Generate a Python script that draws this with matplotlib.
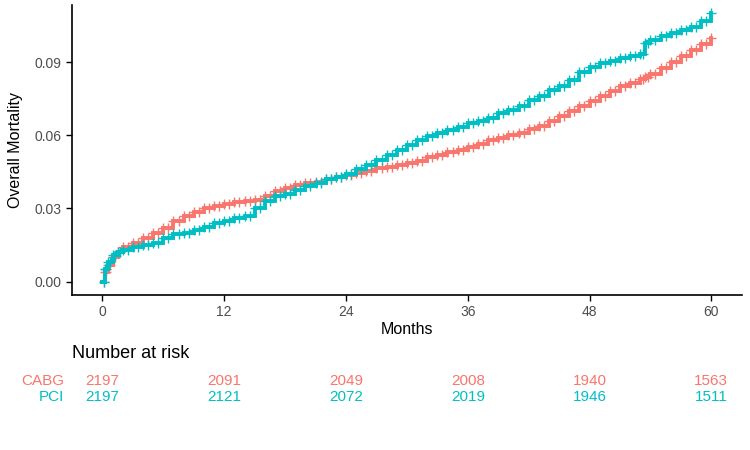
import matplotlib
matplotlib.use("Agg")
import matplotlib.pyplot as plt
from matplotlib.transforms import blended_transform_factory

plt.rcParams['font.family'] = ['Liberation Sans', 'DejaVu Sans']

months = [0, 0.25, 0.5, 1, 1.5, 2, 3, 4, 5, 6, 7, 8, 9, 10, 11, 12, 13, 14, 15,
          16, 17, 18, 19, 20, 21, 22, 23, 24, 25, 26, 27, 28, 29, 30, 31, 32,
          33, 34, 35, 36, 37, 38, 39, 40, 41, 42, 43, 44, 45, 46, 47, 48, 49,
          50, 51, 52, 53, 53.5, 54, 55, 56, 57, 58, 59, 60]

cabg = [0.000, 0.004, 0.007, 0.010, 0.012, 0.014, 0.016, 0.0177, 0.020, 0.022,
        0.025, 0.027, 0.0285, 0.030, 0.031, 0.032, 0.0328, 0.033, 0.0335,
        0.035, 0.037, 0.0385, 0.0395, 0.0405, 0.041, 0.042, 0.043, 0.0437,
        0.0445, 0.0455, 0.0465, 0.047, 0.048, 0.0487, 0.0495, 0.051, 0.052,
        0.053, 0.054, 0.055, 0.0565, 0.058, 0.059, 0.060, 0.061, 0.0625,
        0.064, 0.066, 0.068, 0.070, 0.072, 0.074, 0.076, 0.078, 0.080, 0.0815,
        0.083, 0.084, 0.085, 0.0875, 0.090, 0.0925, 0.095, 0.0975, 0.100]

pci = [0.000, 0.005, 0.008, 0.011, 0.012, 0.0128, 0.014, 0.015, 0.016, 0.018,
       0.0195, 0.020, 0.021, 0.0225, 0.024, 0.025, 0.026, 0.027, 0.030, 0.033,
       0.035, 0.036, 0.0375, 0.039, 0.0405, 0.042, 0.043, 0.044, 0.046, 0.048,
       0.050, 0.052, 0.054, 0.056, 0.058, 0.0595, 0.061, 0.062, 0.0635, 0.065,
       0.066, 0.0672, 0.069, 0.0703, 0.072, 0.0744, 0.076, 0.0785, 0.080,
       0.0826, 0.086, 0.088, 0.0895, 0.0905, 0.0915, 0.0925, 0.0935, 0.098,
       0.099, 0.1005, 0.102, 0.103, 0.1045, 0.107, 0.110]

risk_times = [0, 12, 24, 36, 48, 60]
risk_cabg = [2197, 2091, 2049, 2008, 1940, 1563]
risk_pci = [2197, 2121, 2072, 2019, 1946, 1511]

groups = ["CABG", "PCI"]
colors = {"CABG": "#F8766D", "PCI": "#00BFC4"}

fig = plt.figure(figsize=(7.5, 4.5), dpi=100)
ax = fig.add_axes([0.096, 0.3444, 0.893, 0.645])

for name, vals in [("CABG", cabg), ("PCI", pci)]:
    c = colors[name]
    ax.step(months, vals, where='post', color=c, lw=2.8, solid_joinstyle='miter')
    # censor marks between the knots
    mids = [(months[i] + months[i + 1]) / 2 for i in range(len(months) - 1)]
    ax.plot(mids, vals[:-1], ls='none', marker='+', ms=6.5, mew=1.0, color=c)
    ax.plot(months[1:], vals[1:], ls='none', marker='+', ms=6.5, mew=1.0, color=c)

ax.set_xlim(-3, 63)
ax.set_ylim(-0.0055, 0.1135)
ax.set_xticks(risk_times)
ax.set_yticks([0.00, 0.03, 0.06, 0.09])
ax.set_yticklabels(["0.00", "0.03", "0.06", "0.09"])
ax.tick_params(colors='black', labelcolor='#4D4D4D', labelsize=10, length=4, width=1)
for s in ['top', 'right']:
    ax.spines[s].set_visible(False)
for s in ['left', 'bottom']:
    ax.spines[s].set_linewidth(1.2)
ax.set_xlabel("Months", fontsize=11.5, labelpad=2)
ax.set_ylabel("Overall Mortality", fontsize=11.5, labelpad=8)

# number at risk table
fig.text(0.096, 1 - 354 / 450, "Number at risk", fontsize=13, va='center', ha='left')
tr = blended_transform_factory(ax.transData, fig.transFigure)
for name, counts, ypix in [("CABG", risk_cabg, 381), ("PCI", risk_pci, 397)]:
    c = colors[name]
    yf = 1 - ypix / 450
    fig.text(0.086, yf, name, color=c, fontsize=11, ha='right', va='center')
    for t, n in zip(risk_times, counts):
        ax.text(t, yf, str(n), transform=tr, color=c, fontsize=11,
                ha='center', va='center', clip_on=False)

fig.savefig("out.png", dpi=100)
